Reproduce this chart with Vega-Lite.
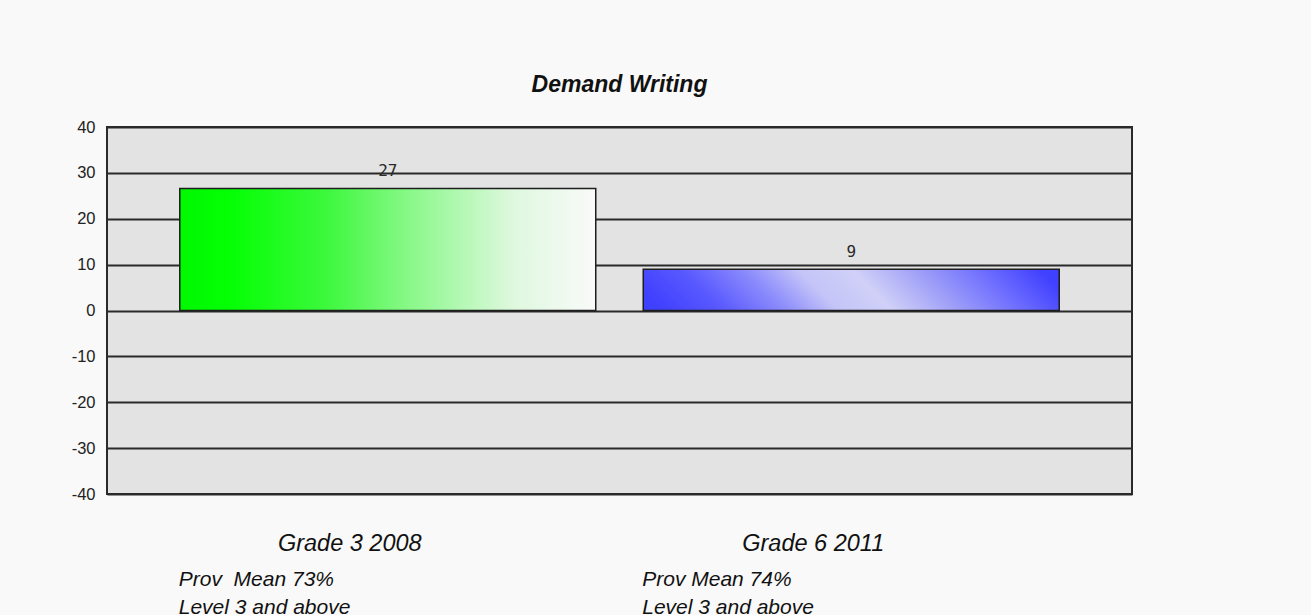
{
  "$schema": "https://vega.github.io/schema/vega-lite/v6.json",
  "width": 1025,
  "height": 367,
  "autosize": "none",
  "padding": {"left": 107, "top": 127, "right": 179, "bottom": 121},
  "background": "#f9f9f9",
  "config": {
    "view": {"fill": "#e3e3e3", "stroke": "#2a2a2a", "strokeWidth": 2},
    "font": "Liberation Sans"
  },
  "title": {
    "text": "Demand Writing",
    "font": "Liberation Sans",
    "fontStyle": "italic",
    "fontWeight": "bold",
    "fontSize": 23,
    "color": "#111111",
    "anchor": "middle",
    "frame": "group",
    "offset": 22
  },
  "data": {
    "values": [
      {"group": "Grade 3 2008|Prov\u00a0 Mean 73%|Level 3 and above", "value": 26.6},
      {"group": "Grade 6 2011|Prov Mean 74%|Level 3 and above", "value": 9}
    ]
  },
  "encoding": {
    "y": {
      "field": "value",
      "type": "quantitative",
      "scale": {"domain": [-40, 40], "nice": false, "zero": false},
      "axis": {
        "title": null,
        "values": [-40, -30, -20, -10, 0, 10, 20, 30, 40],
        "labelExpr": "datum.value < 0 ? '-' + abs(datum.value) : '' + datum.value",
        "ticks": false,
        "domain": false,
        "grid": true,
        "gridColor": "#2a2a2a",
        "gridWidth": 2,
        "gridOpacity": 1,
        "labelPadding": 12,
        "labelFontSize": 16.5,
        "labelColor": "#222222",
        "labelFont": "Liberation Sans"
      }
    }
  },
  "layer": [
    {
      "transform": [{"filter": "indexof(datum.group, 'Grade 3') == 0"}],
      "mark": {
        "type": "bar",
        "stroke": "#1e1e1e",
        "strokeWidth": 1.5,
        "fill": {
          "gradient": "linear",
          "x1": 0, "y1": 0, "x2": 1, "y2": 0,
          "stops": [
            {"offset": 0, "color": "#00f800"},
            {"offset": 0.12, "color": "#04ff04"},
            {"offset": 0.35, "color": "#3cf83c"},
            {"offset": 0.55, "color": "#88f888"},
            {"offset": 0.8, "color": "#def8de"},
            {"offset": 1, "color": "#fafafa"}
          ]
        }
      },
      "encoding": {
        "x": {
          "field": "group",
          "type": "nominal",
          "sort": null,
          "scale": {"paddingInner": 0.1025, "paddingOuter": 0.157},
          "axis": {
            "title": null,
            "orient": "bottom",
            "ticks": false,
            "domain": false,
            "grid": false,
            "labelAngle": 0,
            "labelExpr": "split(datum.value, '|')[0]",
            "labelAlign": "center",
            "labelOffset": -38,
            "labelPadding": 37,
            "labelFontSize": 23.5,
            "labelFontStyle": "italic",
            "labelColor": "#111111",
            "labelFont": "Liberation Sans",
            "labelLimit": 0
          }
        },
        "y": {"field": "value", "type": "quantitative"},
        "y2": {"datum": 0}
      }
    },
    {
      "transform": [{"filter": "indexof(datum.group, 'Grade 6') == 0"}],
      "mark": {
        "type": "bar",
        "stroke": "#1e1e1e",
        "strokeWidth": 1.5,
        "fill": {
          "gradient": "linear",
          "x1": 0, "y1": 0.55, "x2": 1, "y2": 0.45,
          "stops": [
            {"offset": 0, "color": "#4040ff"},
            {"offset": 0.15, "color": "#5a5aff"},
            {"offset": 0.3, "color": "#8e8efc"},
            {"offset": 0.42, "color": "#c4c4f8"},
            {"offset": 0.55, "color": "#d0d0f8"},
            {"offset": 0.7, "color": "#a0a0f8"},
            {"offset": 0.85, "color": "#7070ff"},
            {"offset": 1, "color": "#4040ff"}
          ]
        }
      },
      "encoding": {
        "x": {
          "field": "group",
          "type": "nominal",
          "sort": null,
          "scale": {"paddingInner": 0.1025, "paddingOuter": 0.157},
          "axis": {
            "title": null,
            "orient": "bottom",
            "ticks": false,
            "domain": false,
            "grid": false,
            "labelAngle": 0,
            "labelExpr": "slice(split(datum.value, '|'), 1)",
            "labelAlign": "left",
            "labelOffset": -209,
            "labelPadding": 74,
            "labelLineHeight": 28,
            "labelFontSize": 21,
            "labelFontStyle": "italic",
            "labelColor": "#111111",
            "labelFont": "Liberation Sans",
            "labelLimit": 0
          }
        },
        "y": {"field": "value", "type": "quantitative"},
        "y2": {"datum": 0}
      }
    },
    {
      "mark": {
        "type": "text",
        "font": "DejaVu Sans Mono",
        "fontSize": 16,
        "color": "#2a2a2a",
        "baseline": "alphabetic",
        "dy": -12
      },
      "encoding": {
        "x": {
          "field": "group",
          "type": "nominal",
          "sort": null,
          "scale": {"paddingInner": 0.1025, "paddingOuter": 0.157},
          "axis": null
        },
        "y": {"field": "value", "type": "quantitative"},
        "text": {"field": "value", "type": "quantitative", "format": ".0f"}
      }
    }
  ],
  "resolve": {"axis": {"x": "independent"}}
}
